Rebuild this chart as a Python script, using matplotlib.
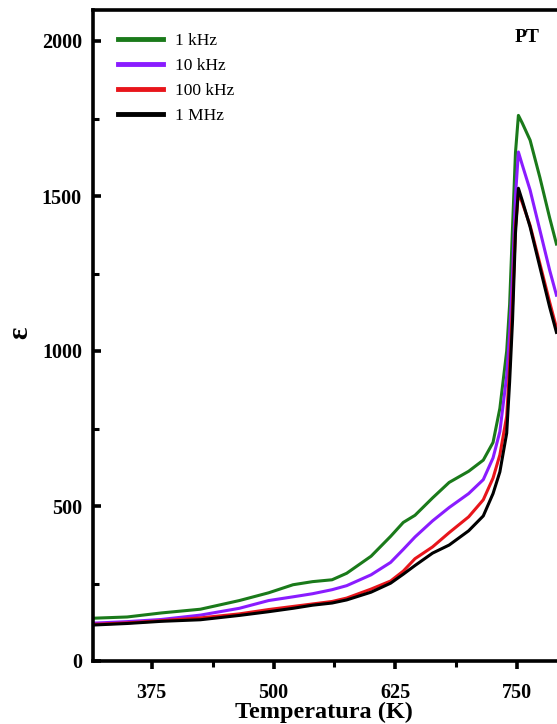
import numpy as np
import matplotlib.pyplot as plt
from matplotlib.ticker import MultipleLocator

# temperature grid (K)
temp = [315, 350, 385, 425, 465, 495, 520, 540, 560, 575, 600, 620, 633, 645, 663,
        680, 700, 715, 725, 732, 739, 742, 745, 748, 751, 755, 763, 773, 783, 790]

eps_1k = [138, 142, 155, 167, 195, 220, 246, 256, 262, 283, 338, 402, 447, 470, 526,
          576, 612, 648, 705, 815, 1000, 1150, 1400, 1640, 1760, 1735, 1680, 1560, 1430, 1345]
eps_10k = [122, 127, 134, 148, 170, 195, 207, 217, 230, 243, 278, 318, 360, 400, 452,
           495, 540, 585, 655, 740, 920, 1058, 1250, 1500, 1642, 1600, 1519, 1390, 1261, 1180]
eps_100k = [118, 123, 130, 139, 152, 166, 176, 184, 192, 203, 232, 258, 290, 330, 368,
            414, 465, 520, 590, 665, 790, 950, 1150, 1400, 1510, 1478, 1405, 1282, 1158, 1075]
eps_1M = [116, 121, 128, 133, 147, 159, 170, 180, 187, 197, 222, 251, 280, 308, 348,
          374, 420, 468, 540, 610, 735, 900, 1100, 1380, 1525, 1485, 1400, 1271, 1142, 1060]

labels = ['1 kHz', '10 kHz', '100 kHz', '1 MHz']
colors = ['#1a7a1a', '#8a1cff', '#e8151b', '#000000']
series = [eps_1k, eps_10k, eps_100k, eps_1M]

plt.rcParams['font.family'] = ['Liberation Serif', 'DejaVu Serif']

fig = plt.figure(figsize=(5.57, 7.24), dpi=100)
W, H = 557, 724
# axes box runs past the right edge of the picture (cropped figure)
ax = fig.add_axes([93 / W, (H - 661) / H, 522 / W, 651 / H])

for y, c, lab in zip(series, colors, labels):
    ax.plot(temp, y, color=c, lw=2.2, label=lab, solid_joinstyle='round')

ax.set_xlim(315, 850)
ax.set_ylim(0, 2100)
ax.set_xticks([375, 500, 625, 750])
ax.xaxis.set_minor_locator(MultipleLocator(62.5))
ax.yaxis.set_major_locator(MultipleLocator(500))
ax.yaxis.set_minor_locator(MultipleLocator(250))

for s in ax.spines.values():
    s.set_linewidth(2.6)
ax.tick_params(axis='x', which='major', direction='out', length=6, width=2.6,
               labelsize=14.5, pad=10)
ax.tick_params(axis='x', which='minor', direction='out', length=4, width=2.2)
ax.tick_params(axis='y', which='major', direction='in', length=6, width=2.6,
               labelsize=14.5, pad=8)
ax.tick_params(axis='y', which='minor', direction='in', length=4, width=2.2)
for t in ax.get_xticklabels() + ax.get_yticklabels():
    t.set_fontweight('bold')

ax.set_xlabel('Temperatura (K)', fontsize=17.5, fontweight='bold', labelpad=0)
ax.xaxis.set_label_coords(0.443, -0.062)
ax.set_ylabel('ε', fontsize=21, fontweight='bold')
ax.yaxis.label.set_va('center')
ax.yaxis.set_label_coords(-0.14, 0.504)

ax.text(760, 2010, 'PT', fontsize=14, fontweight='bold', ha='center', va='center')

leg = ax.legend(loc='upper left', frameon=False, fontsize=12.5, handlelength=2.6,
                handletextpad=0.7, labelspacing=0.5, bbox_to_anchor=(0.034, 0.975),
                borderaxespad=0)
for h in leg.get_lines():
    h.set_linewidth(3.5)

fig.savefig('out.png', dpi=100)
